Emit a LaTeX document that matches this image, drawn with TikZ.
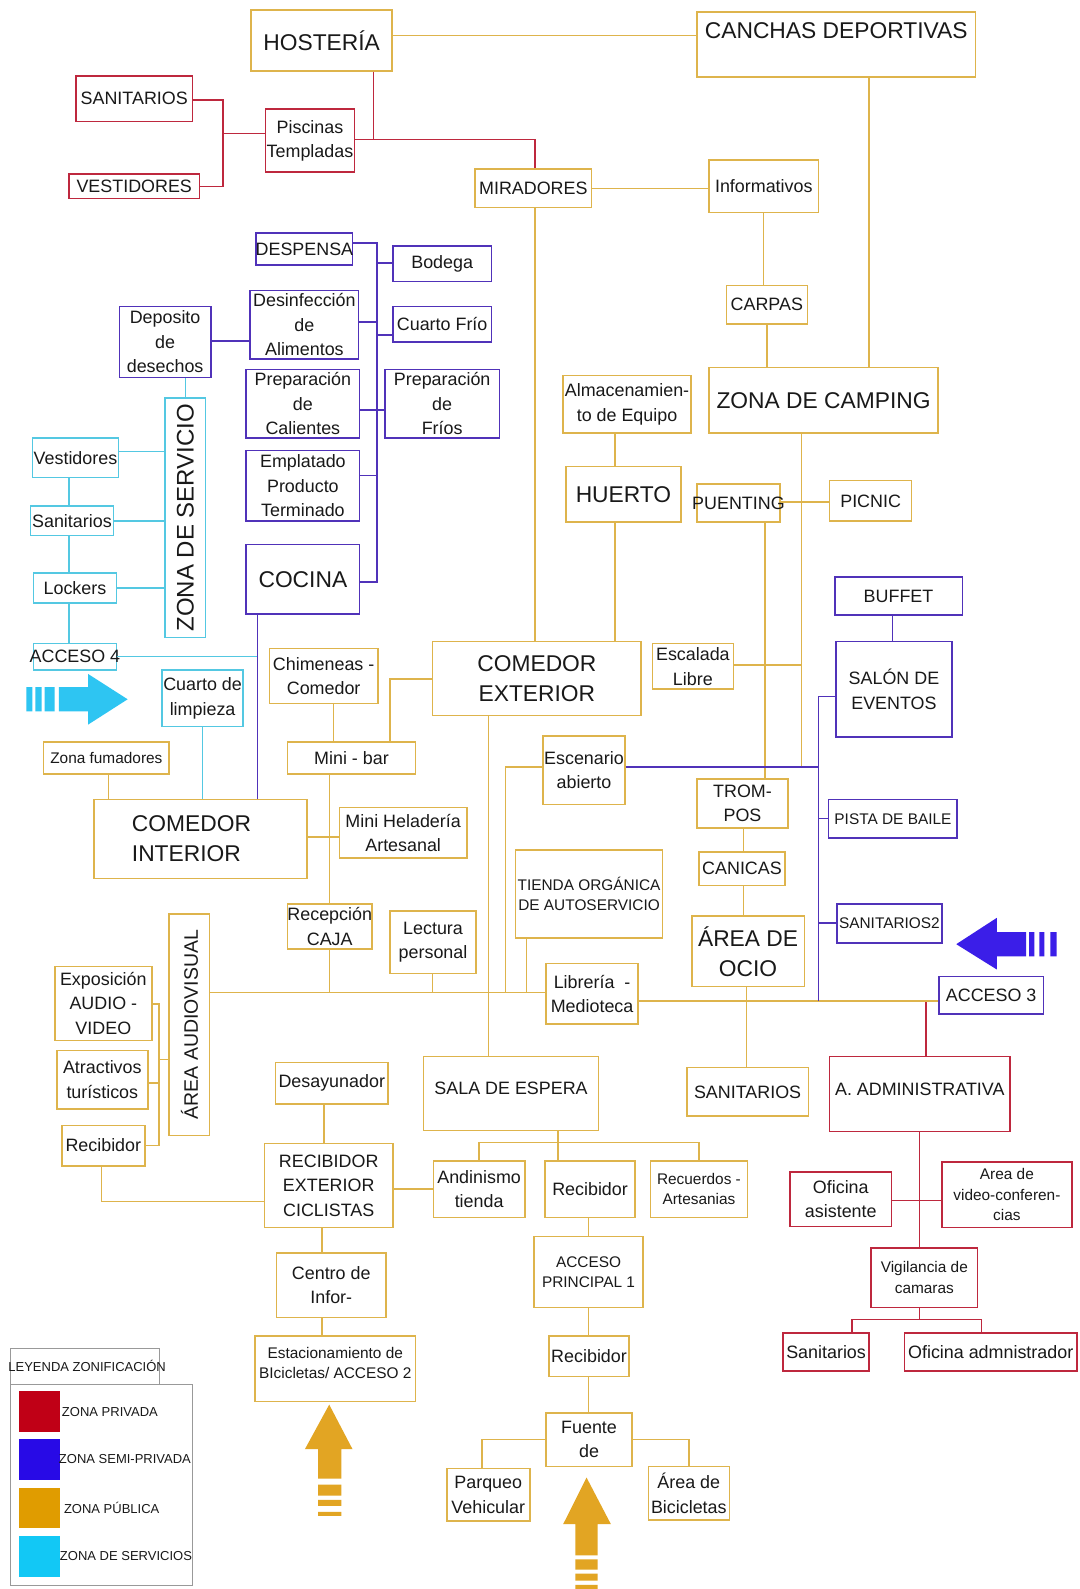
\documentclass[tikz,border=0pt]{standalone}
\usepackage{fontspec}
\setmainfont{Liberation Sans}
\definecolor{cgold}{RGB}{222,180,76}
\definecolor{cred}{RGB}{190,40,62}
\definecolor{cblue}{RGB}{80,50,185}
\definecolor{ccyan}{RGB}{84,200,226}
\definecolor{ctext}{RGB}{25,25,25}
\definecolor{agold}{RGB}{226,165,35}
\definecolor{acyan}{RGB}{46,197,242}
\definecolor{ablue}{RGB}{59,30,232}
\definecolor{lred}{RGB}{192,0,22}
\definecolor{lblue}{RGB}{40,10,230}
\definecolor{lorange}{RGB}{224,156,0}
\definecolor{lcyan}{RGB}{18,200,245}
\newcommand{\fL}{\fontsize{22.8}{30}\selectfont}
\newcommand{\fM}{\fontsize{17.9}{24.5}\selectfont}
\newcommand{\fS}{\fontsize{15.4}{20.5}\selectfont}
\newcommand{\fX}{\fontsize{13}{15}\selectfont}
\newcommand{\zbox}[8]{%
  \node[#6, minimum width={(#4-#2)*1.013pt}, minimum height={(#5-#3)*1.012pt}] (#1) at ({(#2+#4)/2},{(#3+#5)/2}) {};
  \node[txt,#7] (#1t) at (#1.center) {#8};}
\newcommand{\ebox}[6]{%
  \node[#6, minimum width={(#4-#2)*1.013pt}, minimum height={(#5-#3)*1.012pt}] (#1) at ({(#2+#4)/2},{(#3+#5)/2}) {};}
\tikzset{
  gb/.style={draw=cgold, line width=1.6pt, inner sep=0pt},
  rb/.style={draw=cred, line width=1.6pt, inner sep=0pt},
  bb/.style={draw=cblue, line width=1.6pt, inner sep=0pt},
  cb/.style={draw=ccyan, line width=1.6pt, inner sep=0pt},
  txt/.style={align=center, text=ctext, inner sep=0pt, font=\fM},
  big/.style={font=\fL},
  sm/.style={font=\fS},
  gl/.style={draw=cgold, line width=1.4pt},
  rl/.style={draw=cred, line width=1.4pt},
  bl/.style={draw=cblue, line width=1.4pt},
  cl/.style={draw=ccyan, line width=1.4pt},
  legbox/.style={draw=gray!80, line width=0.8pt, inner sep=0pt},
  legtxt/.style={text=ctext, inner sep=0pt, font=\fX, anchor=west}
}
\begin{document}
\begin{tikzpicture}[x=1.013pt, y=-1.012pt]
\useasboundingbox (0,0) rectangle (1066.1,1570.2);
\fill[white] (0,0) rectangle (1066.1,1570.2);

% ---------------- boxes: gold (public)
\zbox{hos}{248}{10}{387}{70}{gb}{big}{HOSTERÍA}
\ebox{can}{688}{12}{963}{76}{gb}
\node[txt, big] (cant) at (825.5,30) {CANCHAS DEPORTIVAS};
\zbox{mir}{469}{167}{584}{205}{gb}{}{MIRADORES}
\zbox{inf}{700}{158}{808}{210}{gb}{}{Informativos}
\zbox{carp}{717}{282}{797}{320}{gb}{}{CARPAS}
\zbox{alm}{556}{371}{682}{428}{gb}{}{Almacenamien-\\to de Equipo}
\zbox{zc}{700}{363}{926}{428}{gb}{big}{ZONA DE CAMPING}
\zbox{hue}{559}{461}{672}{516}{gb}{big}{HUERTO}
\zbox{pue}{688}{478}{770}{516}{gb}{}{PUENTING}
\zbox{pic}{819}{475}{900}{515}{gb}{}{PICNIC}
\zbox{esc}{644}{636}{724}{681}{gb}{}{Escalada\\Libre}
\zbox{come}{427}{634}{633}{707}{gb}{big}{COMEDOR\\EXTERIOR}
\zbox{chim}{266}{641}{373}{695}{gb}{}{Chimeneas -\\Comedor}
\zbox{mb}{284}{733}{410}{765}{gb}{}{Mini - bar}
\zbox{zf}{43}{733}{167}{765}{gb}{sm}{Zona fumadores}
\ebox{comi}{93}{790}{303}{868}{gb}
\node[txt, big, align=left] (comit) at (189,829) {COMEDOR\\INTERIOR};
\zbox{mh}{335}{798}{461}{848}{gb}{}{Mini Heladería\\Artesanal}
\zbox{rec}{284}{893}{367}{938}{gb}{}{Recepción\\CAJA}
\zbox{lec}{385}{900}{470}{962}{gb}{}{Lectura\\personal}
\zbox{esc2}{536}{727}{617}{795}{gb}{}{Escenario\\abierto}
\zbox{tie}{509}{840}{654}{927}{gb}{sm}{TIENDA ORGÁNICA\\DE AUTOSERVICIO}
\zbox{lib}{539}{952}{630}{1012}{gb}{}{Librería\ \ -\\Medioteca}
\zbox{trom}{688}{770}{778}{818}{gb}{}{TROM-\\POS}
\zbox{cani}{690}{842}{775}{875}{gb}{}{CANICAS}
\zbox{ocio}{683}{905}{794}{975}{gb}{big}{ÁREA DE\\OCIO}
\ebox{aav}{167}{903}{207}{1122}{gb}
\node[txt, rotate=90, font=\fontsize{19.5}{23}\selectfont] (aavt) at (aav.center) {ÁREA AUDIOVISUAL};
\zbox{exp}{54}{955}{150}{1028}{gb}{}{Exposición\\AUDIO -\\VIDEO}
\zbox{atr}{56}{1038}{146}{1096}{gb}{}{Atractivos\\turísticos}
\zbox{recl}{61}{1112}{143}{1152}{gb}{}{Recibidor}
\zbox{desa}{272}{1050}{383}{1091}{gb}{}{Desayunador}
\zbox{rex}{261}{1130}{388}{1213}{gb}{}{RECIBIDOR\\EXTERIOR\\CICLISTAS}
\zbox{ci}{273}{1238}{381}{1302}{gb}{}{Centro de\\Infor-}
\ebox{est}{252}{1320}{410}{1385}{gb}
\node[txt, sm] (estt) at (331,1347) {Estacionamiento de\\BIcicletas/ ACCESO 2};
\ebox{sala}{418}{1044}{591}{1117}{gb}
\node[txt] (salat) at (504.5,1075) {SALA DE ESPERA};
\zbox{and}{428}{1147}{518}{1203}{gb}{}{Andinismo\\tienda}
\zbox{rcb}{538}{1147}{627}{1203}{gb}{}{Recibidor}
\zbox{recu}{642}{1147}{738}{1203}{gb}{sm}{Recuerdos -\\Artesanias}
\zbox{acp}{527}{1222}{635}{1292}{gb}{sm}{ACCESO\\PRINCIPAL 1}
\zbox{rcb2}{542}{1320}{621}{1360}{gb}{}{Recibidor}
\zbox{fue}{539}{1396}{624}{1449}{gb}{}{Fuente\\de}
\zbox{par}{441}{1451}{523}{1503}{gb}{}{Parqueo\\Vehicular}
\zbox{abi}{640}{1449}{720}{1502}{gb}{}{Área de\\Bicicletas}
\zbox{sanr}{678}{1055}{798}{1103}{gb}{}{SANITARIOS}

% ---------------- boxes: blue (semi-private)
\zbox{desp}{253}{230}{348}{262}{bb}{}{DESPENSA}
\zbox{bod}{388}{243}{485}{278}{bb}{}{Bodega}
\zbox{desi}{247}{287}{354}{355}{bb}{}{Desinfección\\de\\Alimentos}
\zbox{cf}{388}{303}{485}{338}{bb}{}{Cuarto Frío}
\zbox{dep}{118}{303}{208}{373}{bb}{}{Deposito\\de\\desechos}
\zbox{pc}{243}{365}{355}{433}{bb}{}{Preparación\\de\\Calientes}
\zbox{pf}{380}{365}{493}{433}{bb}{}{Preparación\\de\\Fríos}
\zbox{emp}{243}{445}{355}{515}{bb}{}{Emplatado\\Producto\\Terminado}
\zbox{coc}{243}{538}{355}{607}{bb}{big}{COCINA}
\zbox{buf}{824}{570}{950}{608}{bb}{}{BUFFET}
\zbox{sal}{825}{634}{940}{728}{bb}{}{SALÓN DE\\EVENTOS}
\zbox{pis}{818}{790}{945}{828}{bb}{sm}{PISTA DE BAILE}
\zbox{san2}{826}{893}{930}{932}{bb}{sm}{SANITARIOS2}
\zbox{acc3}{927}{965}{1030}{1002}{bb}{}{ACCESO 3}

% ---------------- boxes: red (private)
\zbox{san1}{75}{75}{190}{120}{rb}{}{SANITARIOS}
\zbox{ves1}{68}{172}{197}{196}{rb}{}{VESTIDORES}
\zbox{pisc}{262}{108}{350}{170}{rb}{}{Piscinas\\Templadas}
\ebox{adm}{819}{1044}{997}{1118}{rb}
\node[txt] (admt) at (908,1076) {A. ADMINISTRATIVA};
\zbox{ofa}{780}{1158}{880}{1212}{rb}{}{Oficina\\asistente}
\zbox{avc}{930}{1148}{1058}{1213}{rb}{sm}{Area de\\video-conferen-\\cias}
\zbox{vig}{860}{1233}{965}{1292}{rb}{sm}{Vigilancia de\\camaras}
\zbox{sanr2}{773}{1317}{858}{1355}{rb}{}{Sanitarios}
\zbox{ofad}{893}{1317}{1063}{1355}{rb}{}{Oficina admnistrador}

% ---------------- boxes: cyan (services)
\ebox{zs}{163}{393}{203}{630}{cb}
\node[txt, rotate=90, font=\fontsize{24}{28}\selectfont] (zst) at (zs.center) {ZONA DE SERVICIO};
\zbox{vc}{32}{433}{117}{472}{cb}{}{Vestidores}
\zbox{sc}{30}{500}{112}{529}{cb}{}{Sanitarios}
\zbox{lk}{33}{566}{115}{596}{cb}{}{Lockers}
\zbox{acc4}{33}{636}{115}{662}{cb}{}{ACCESO 4}
\zbox{cl}{160}{662}{240}{718}{cb}{}{Cuarto de\\limpieza}

% ---------------- red connectors
\draw[rl] (hos.south -| 369,0) -- (369,138);
\draw[rl] (pisc.east |- 0,138) -- (528,138) -- (mir.north -| 528,0);
\draw[rl] (pisc.west |- 0,132) -- (220,132);
\draw[rl] (san1.east |- 0,99) -- (220,99) -- (220,184) -- (ves1.east |- 0,184);
\draw[rl] (914,989) -- (adm.north -| 914,0);
\draw[rl] (adm.south -| 908,0) -- (vig.north -| 908,0);
\draw[rl] (ofa.east |- 0,1186) -- (avc.west |- 0,1186);
\draw[rl] (vig.south -| 908,0) -- (908,1304);
\draw[rl] (sanr2.north -| 841,0) -- (841,1304) -- (969,1304) -- (ofad.north -| 969,0);

% ---------------- gold connectors
\draw[gl] (hos.east |- 0,35) -- (can.west |- 0,35);
\draw[gl] (can.south -| 858,0) -- (zc.north -| 858,0);
\draw[gl] (mir.east) -- (inf.west |- mir.east);
\draw[gl] (inf.south -| 754,0) -- (carp.north -| 754,0);
\draw[gl] (carp.south -| 757,0) -- (zc.north -| 757,0);
\draw[gl] (mir.south -| 528,0) -- (come.north -| 528,0);
\draw[gl] (alm.south -| 607,0) -- (hue.north -| 607,0);
\draw[gl] (hue.south -| 607,0) -- (come.north -| 607,0);
\draw[gl] (zc.south -| 791,0) -- (791,758);
\draw[gl] (pue.east |- 0,496) -- (pic.west |- 0,496);
\draw[gl] (pue.south -| 755,0) -- (trom.north -| 755,0);
\draw[gl] (esc.east |- 0,657) -- (791,657);
\draw[gl] (trom.south -| 734,0) -- (cani.north -| 734,0);
\draw[gl] (cani.south -| 734,0) -- (ocio.north -| 734,0);
\draw[gl] (ocio.south -| 737,0) -- (sanr.north -| 737,0);
\draw[gl] (come.west |- 0,671) -- (385,671) -- (mb.north -| 385,0);
\draw[gl] (chim.south -| 329,0) -- (mb.north -| 329,0);
\draw[gl] (mb.south -| 325,0) -- (rec.north -| 325,0);
\draw[gl] (comi.east |- 0,827) -- (mh.west |- 0,827);
\draw[gl] (rec.south -| 325,0) -- (325,981);
\draw[gl] (lec.south -| 427,0) -- (427,981);
\draw[gl] (esc2.west |- 0,758) -- (499,758) -- (499,981);
\draw[gl] (tie.south -| 520,0) -- (520,981);
\draw[gl] (aav.east |- 0,981) -- (lib.west |- 0,981);
\draw[gl] (lib.east |- 0,989) -- (acc3.west |- 0,989);
\draw[gl] (come.south -| 482,0) -- (sala.north -| 482,0);
\draw[gl] (zf.south -| 107,0) -- (comi.north -| 107,0);
\draw[gl] (aav.west |- 0,1047) -- (157,1047);
\draw[gl] (exp.east |- 0,992) -- (157,992) -- (157,1132) -- (recl.east |- 0,1132);
\draw[gl] (atr.east |- 0,1070) -- (157,1070);
\draw[gl] (recl.south -| 100,0) -- (100,1187) -- (rex.west |- 0,1187);
\draw[gl] (desa.south -| 320,0) -- (rex.north -| 320,0);
\draw[gl] (rex.east |- 0,1175) -- (and.west |- 0,1175);
\draw[gl] (sala.south -| 551,0) -- (rcb.north -| 551,0);
\draw[gl] (and.north -| 473,0) -- (473,1129) -- (690,1129) -- (recu.north -| 690,0);
\draw[gl] (rcb.south -| 581,0) -- (acp.north -| 581,0);
\draw[gl] (acp.south -| 581,0) -- (rcb2.north -| 581,0);
\draw[gl] (rcb2.south -| 581,0) -- (fue.north -| 581,0);
\draw[gl] (fue.west) -- (fue.west -| 476,0) -- (par.north -| 476,0);
\draw[gl] (fue.east) -- (fue.east -| 680,0) -- (abi.north -| 680,0);
\draw[gl] (rex.south -| 318,0) -- (ci.north -| 318,0);
\draw[gl] (ci.south -| 318,0) -- (est.north -| 318,0);

% ---------------- blue connectors
\draw[bl] (sal.west |- 0,688) -- (808,688) -- (808,989);
\draw[bl] (esc2.east |- 0,758) -- (808,758);
\draw[bl] (808,809) -- (pis.west |- 0,809);
\draw[bl] (808,912) -- (san2.west |- 0,912);
\draw[bl] (buf.south -| 881,0) -- (sal.north -| 881,0);
\draw[bl] (desp.east |- 0,240) -- (372,240) -- (372,575) -- (coc.east |- 0,575);
\draw[bl] (bod.west |- 0,260) -- (372,260);
\draw[bl] (desi.east |- 0,318) -- (372,318);
\draw[bl] (cf.west |- 0,331) -- (372,331);
\draw[bl] (pc.east |- 0,405) -- (pf.west |- 0,405);
\draw[bl] (emp.east |- 0,470) -- (372,470);
\draw[bl] (dep.east |- 0,337) -- (desi.west |- 0,337);
\draw[bl] (coc.south -| 254,0) -- (comi.north -| 254,0);

% ---------------- cyan connectors
\draw[cl] (zs.north) -- (dep.south -| zs.north);
\draw[cl] (vc.east |- 0,446) -- (zs.west |- 0,446);
\draw[cl] (sc.east |- 0,515) -- (zs.west |- 0,515);
\draw[cl] (lk.east |- 0,581) -- (zs.west |- 0,581);
\draw[cl] (vc.south -| 68,0) -- (sc.north -| 68,0);
\draw[cl] (sc.south -| 68,0) -- (lk.north -| 68,0);
\draw[cl] (lk.south -| 68,0) -- (acc4.north -| 68,0);
\draw[cl] (acc4.east) -- (acc4.east -| 254,0);
\draw[cl] (cl.south -| 200,0) -- (comi.north -| 200,0);

% ---------------- access arrows
\fill[acyan] (26,679) rectangle (32,703) (35,679) rectangle (41,703) (44,679) rectangle (54,703);
\fill[acyan] (58,679) -- (87,679) -- (87,666) -- (126,691) -- (87,716) -- (87,703) -- (58,703) -- cycle;
\fill[ablue] (944,933) -- (984,907) -- (984,921) -- (1013,921) -- (1013,945) -- (984,945) -- (984,958) -- cycle;
\fill[ablue] (1016,921) rectangle (1021,945) (1026,921) rectangle (1031,945) (1037,921) rectangle (1043,945);
\fill[agold] (325,1388) -- (348,1432) -- (337,1432) -- (337,1461) -- (314,1461) -- (314,1432) -- (301,1432) -- cycle;
\fill[agold] (314,1467) rectangle (337,1478) (314,1482) rectangle (337,1488) (314,1494) rectangle (337,1498);
\fill[agold] (579,1460) -- (603,1506) -- (590,1506) -- (590,1537) -- (568,1537) -- (568,1506) -- (556,1506) -- cycle;
\fill[agold] (568,1541) rectangle (590,1551) (568,1555) rectangle (590,1562) (568,1566) rectangle (590,1570.2);

% ---------------- legend
\ebox{legt}{10}{1332}{157}{1368}{legbox}
\node[txt, font=\fX] (legtt) at (86,1350) {LEYENDA ZONIFICACIÓN};
\ebox{legb}{10}{1368}{190}{1567}{legbox}
\ebox{lr}{19}{1375}{59}{1415}{fill=lred, inner sep=0pt}
\ebox{lb}{19}{1422}{59}{1462}{fill=lblue, inner sep=0pt}
\ebox{lo}{19}{1470}{59}{1510}{fill=lorange, inner sep=0pt}
\ebox{lc}{19}{1518}{59}{1558}{fill=lcyan, inner sep=0pt}
\node[legtxt] (lrt) at (61,1395) {ZONA PRIVADA};
\node[legtxt] (lbt) at (58,1442) {ZONA SEMI-PRIVADA};
\node[legtxt] (lot) at (63,1490) {ZONA PÚBLICA};
\node[legtxt] (lct) at (59,1538) {ZONA DE SERVICIOS};
\end{tikzpicture}
\end{document}
